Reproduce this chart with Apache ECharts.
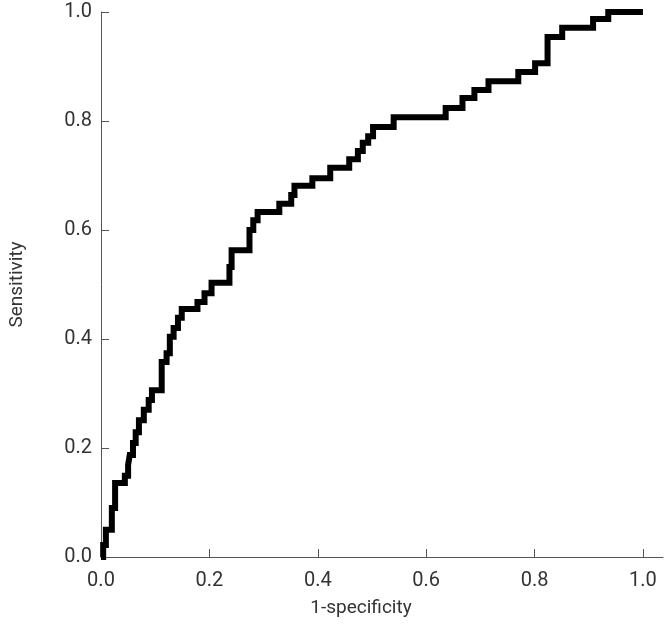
<!DOCTYPE html>
<html>
<head>
<meta charset="utf-8">
<script src="https://cdn.jsdelivr.net/npm/echarts@6/dist/echarts.min.js"></script>
<style>
  html, body { margin: 0; padding: 0; background: #fff; }
  #chart { width: 668px; height: 629px; }
</style>
</head>
<body>
<div id="chart"></div>
<script>
// ROC curve corners: fpr where sensitivity rises, and the new sensitivity
var fpr = [0, 0.004, 0.009, 0.020, 0.026, 0.044, 0.050, 0.053, 0.059, 0.064, 0.070, 0.079, 0.088, 0.094,
    0.112, 0.121, 0.127, 0.134, 0.142, 0.149, 0.178, 0.191, 0.204, 0.237, 0.241, 0.274, 0.281, 0.289,
    0.329, 0.351, 0.357, 0.390, 0.423, 0.458, 0.474, 0.483, 0.493, 0.502, 0.540, 0.636, 0.667, 0.689,
    0.715, 0.770, 0.801, 0.824, 0.851, 0.908, 0.936, 1.0];
var tpr = [0, 0.022, 0.050, 0.090, 0.136, 0.149, 0.169, 0.187, 0.209, 0.229, 0.251, 0.270, 0.288, 0.306,
    0.358, 0.374, 0.404, 0.420, 0.439, 0.455, 0.468, 0.484, 0.503, 0.532, 0.563, 0.600, 0.618, 0.633,
    0.648, 0.664, 0.681, 0.695, 0.714, 0.730, 0.745, 0.760, 0.772, 0.789, 0.807, 0.824, 0.842, 0.857,
    0.873, 0.890, 0.906, 0.954, 0.971, 0.987, 1.0, 1.0];
var tickValues = [0, 0.2, 0.4, 0.6, 0.8, 1.0];

var fontFamily = 'Roboto, sans-serif';

var rocData = [];
for (var i = 0; i < fpr.length; i++) {
    rocData.push([fpr[i], tpr[i]]);
}

function fmt(v) {
    return v.toFixed(1);
}

var chart = echarts.init(document.getElementById('chart'), null, { renderer: 'canvas' });

var option = {
    backgroundColor: '#ffffff',
    animation: false,
    grid: { left: 99, right: 5, top: 12, bottom: 72, containLabel: false },
    xAxis: {
        type: 'value',
        min: 0,
        max: 1.037,
        name: '1-specificity',
        nameLocation: 'middle',
        nameGap: 42,
        nameTextStyle: { fontFamily: fontFamily, fontSize: 19, color: '#333', padding: [0, 42, 0, 0] },
        axisLine: { show: true, lineStyle: { color: '#555', width: 1 } },
        axisTick: { show: true, inside: true, length: 8, customValues: tickValues, lineStyle: { color: '#555' } },
        axisLabel: { customValues: tickValues, formatter: fmt, fontFamily: fontFamily, fontSize: 20, color: '#333', margin: 14 },
        splitLine: { show: false }
    },
    yAxis: {
        type: 'value',
        min: 0,
        max: 1,
        interval: 0.2,
        name: 'Sensitivity',
        nameLocation: 'middle',
        nameGap: 74,
        nameTextStyle: { fontFamily: fontFamily, fontSize: 19, color: '#333' },
        axisLine: { show: true, lineStyle: { color: '#555', width: 1 } },
        axisTick: { show: true, inside: true, length: 8, lineStyle: { color: '#555' } },
        axisLabel: { formatter: fmt, fontFamily: fontFamily, fontSize: 20, color: '#333', margin: 9 },
        splitLine: { show: false }
    },
    series: [{
        type: 'line',
        data: rocData,
        step: 'end',
        showSymbol: false,
        clip: false,
        lineStyle: { color: '#000', width: 6, cap: 'butt', join: 'miter' }
    }]
};

chart.setOption(option);
</script>
</body>
</html>
